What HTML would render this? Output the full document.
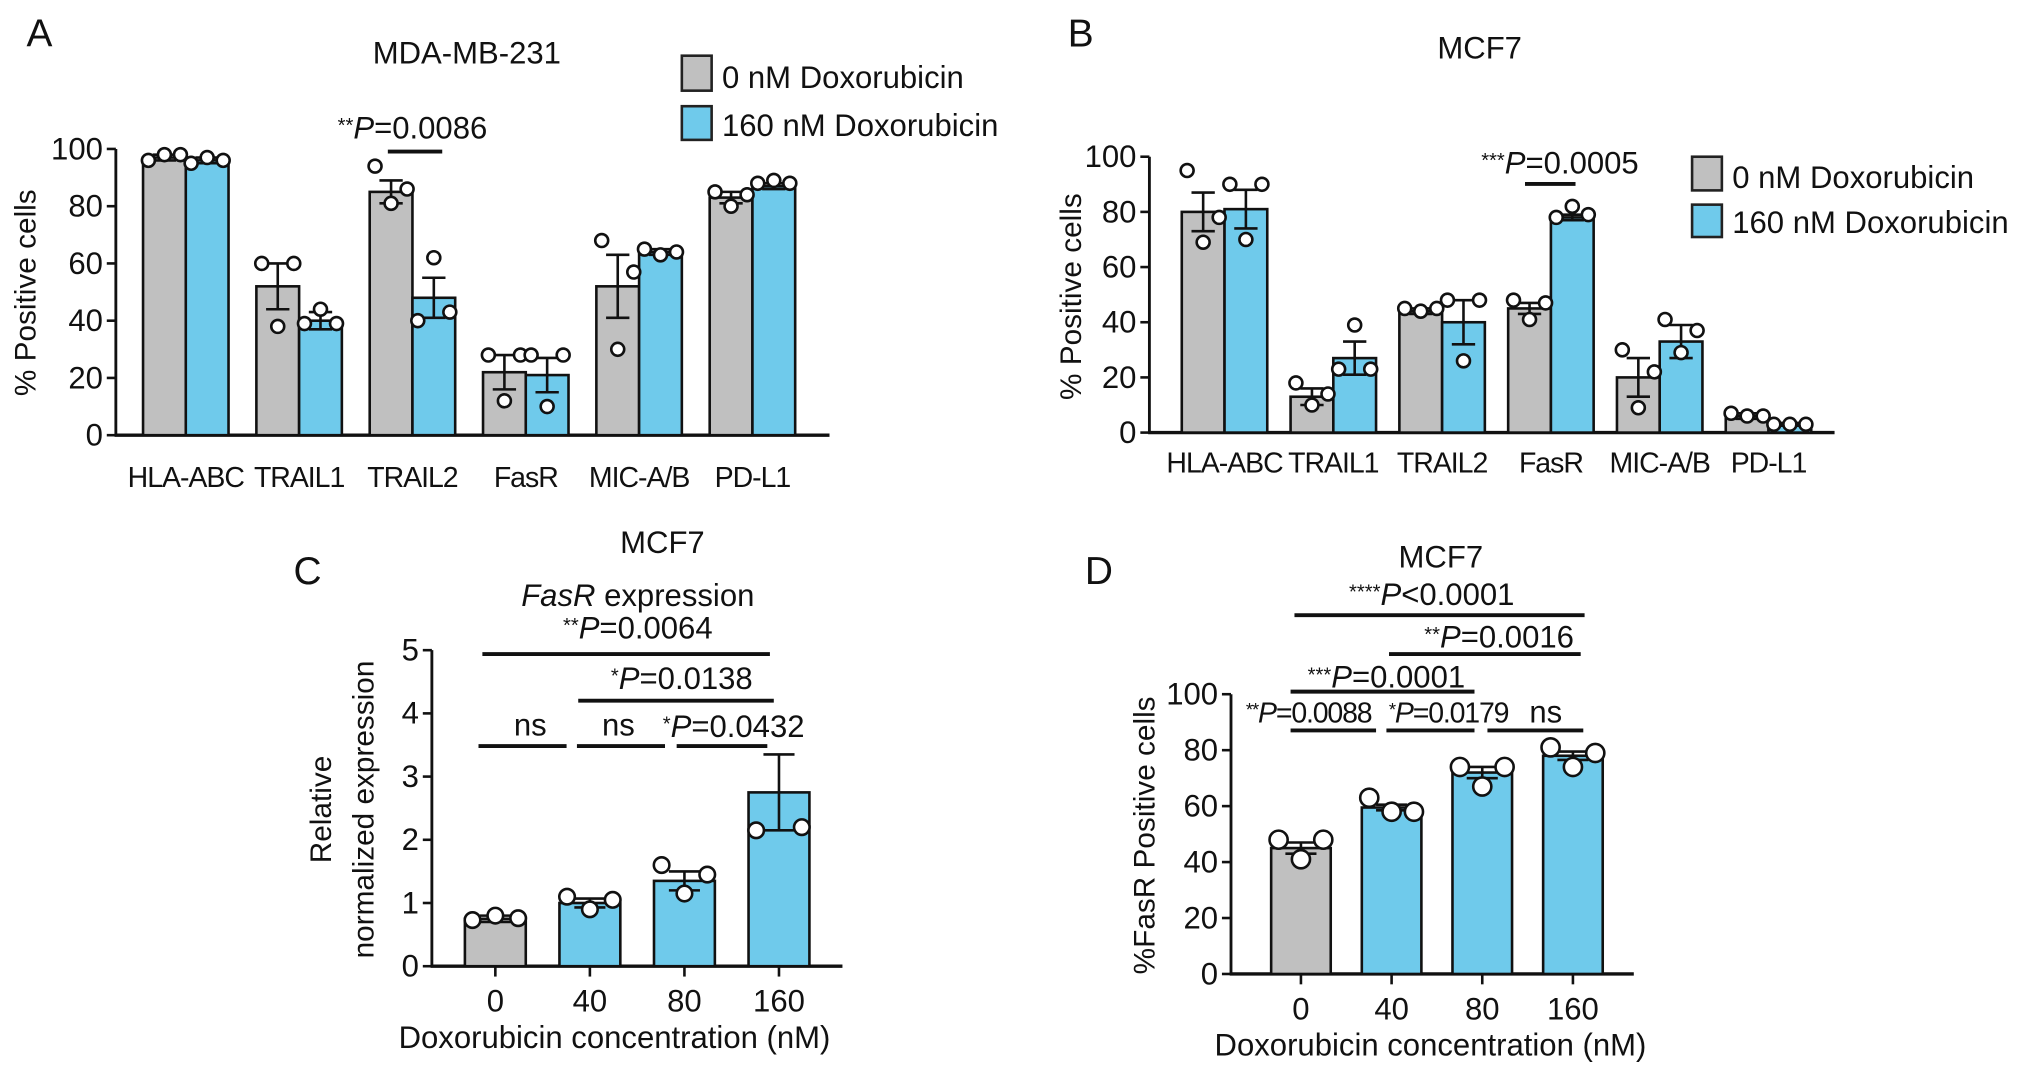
<!DOCTYPE html>
<html><head><meta charset="utf-8"><style>
html,body{margin:0;padding:0;background:#fff}
svg{display:block}
text{font-family:"Liberation Sans",Arial,sans-serif;fill:#111}
.cat{letter-spacing:-0.8px}
.tight{letter-spacing:-0.9px}
</style></head><body>
<svg id="fig" width="2032" height="1075" viewBox="0 0 1568 830" xmlns="http://www.w3.org/2000/svg"></svg>
<script>
// ---------- Panel A data ----------
const aCats=["HLA-ABC","TRAIL1","TRAIL2","FasR","MIC-A/B","PD-L1"];
const aGray=[97,52,85,22,52,83];
const aBlue=[96,40,48,21,64,87];
const aGrayErr=[1,8,4,6,11,2];
const aBlueErr=[1,3,7,6,1,1];
const aGrayPts=[[96,98,98],[60,38,60],[94,81,86],[28,12,28],[68,30,57],[85,80,84]];
const aBluePts=[[95,97,96],[39,44,39],[40,62,43],[28,10,28],[65,63,64],[88,89,88]];
const aTicks=[0,20,40,60,80,100];
// ---------- Panel B data ----------
const bCats=["HLA-ABC","TRAIL1","TRAIL2","FasR","MIC-A/B","PD-L1"];
const bGray=[80,13,44,45,20,6];
const bBlue=[81,27,40,78,33,3];
const bGrayErr=[7,3,1,2,7,1];
const bBlueErr=[7,6,8,1,6,0.5];
const bGrayPts=[[95,69,78],[18,10,14],[45,44,45],[48,41,47],[30,9,22],[7,6,6]];
const bBluePts=[[90,70,90],[23,39,23],[48,26,48],[78,82,79],[41,29,37],[3,3,3]];
const bTicks=[0,20,40,60,80,100];
// ---------- Panel C data ----------
const cCats=["0","40","80","160"];
const cVals=[0.75,1.0,1.35,2.75];
const cErr=[0.05,0.07,0.15,0.6];
const cPts=[[0.73,0.8,0.76],[1.1,0.9,1.05],[1.6,1.15,1.45],[2.15,2.2]];
const cTicks=[0,1,2,3,4,5];
// ---------- Panel D data ----------
const dCats=["0","40","80","160"];
const dVals=[45,59.5,72,78];
const dErr=[2,1,2,1.5];
const dPts=[[48,41,48],[63,58,58],[74,67,74],[81,74,79]];
const dTicks=[0,20,40,60,80,100];

const NS="http://www.w3.org/2000/svg";
const svg=document.getElementById('fig');
const GRAY="#c0c0c0", BLUE="#6fcaeb";
const FS=24;
function mk(tag,attrs,parent){const e=document.createElementNS(NS,tag);for(const k in attrs)e.setAttribute(k,attrs[k]);(parent||svg).appendChild(e);return e;}
function txt(x,y,s,size,anchor,parent){const t=mk('text',{x:x,y:y,'font-size':size,'text-anchor':anchor||'middle'},parent);t.textContent=s;return t;}
function ptext(x,y,stars,rest,size,parent){
  const t=mk('text',{x:x,y:y,'font-size':size,'text-anchor':'middle'},parent);
  const s1=mk('tspan',{'font-size':size*0.65,dy:-5},t);s1.textContent=stars;
  const s2=mk('tspan',{'font-style':'italic',dy:5},t);s2.textContent='P';
  const s3=mk('tspan',{},t);s3.textContent=rest;
  return t;
}
function line(x1,y1,x2,y2,w,parent){return mk('line',{x1:x1,y1:y1,x2:x2,y2:y2,stroke:'#111','stroke-width':w||2},parent);}

function axes(g,ax,y0,yTop,xEnd,ticks,vmax,fs){
  const ys=v=>y0-v/vmax*(y0-yTop);
  const yl=line(ax,y0,ax,yTop,2.2,g);
  
  
  const xl=line(ax-1,y0,xEnd,y0,2.6,g);
  
  
  ticks.forEach(t=>{
    const tk=line(ax-7,ys(t),ax,ys(t),2,g);
    
    
    const tl=txt(ax-10,ys(t)+8,String(t),fs,'end',g);
    
    
  });
  return ys;
}
function bar(g,x,w,y0,yv,fill,name){
  const r=mk('rect',{x:x,y:yv,width:w,height:y0-yv,fill:fill,stroke:'#111','stroke-width':2},g);
  
  
}
function errbar(g,cx,ys,v,e,cw){
  const eg=mk('g',{},g);
  
  
  line(cx,ys(v-e),cx,ys(v+e),2,eg);
  line(cx-cw,ys(v+e),cx+cw,ys(v+e),2,eg);
  line(cx-cw,ys(v-e),cx+cw,ys(v-e),2,eg);
}
function points(g,cx,w,ys,pts,r){
  const n=pts.length;
  pts.forEach((p,i)=>{
    const off=n===1?0:(i/(n-1)-0.5)*w*0.75;
    const c=mk('circle',{cx:cx+off,cy:ys(p),r:r||5,fill:'#fff',stroke:'#111','stroke-width':2},g);
    
    
  });
}

// ---------- Panel A ----------
(function(){
  const g=mk('g',{});
  
  
  const ax=89,y0=336,yTop=115,step=87.5,left=110,w=33;
  const ys=axes(g,ax,y0,yTop,640,aTicks,100,FS);
  aCats.forEach((c,i)=>{
    const gx=left+i*step;
    bar(g,gx,w,y0,ys(aGray[i]),GRAY,'bar-gray-'+c.toLowerCase());
    bar(g,gx+w,w,y0,ys(aBlue[i]),BLUE,'bar-blue-'+c.toLowerCase());
    errbar(g,gx+w/2,ys,aGray[i],aGrayErr[i],9);
    errbar(g,gx+1.5*w,ys,aBlue[i],aBlueErr[i],9);
    points(g,gx+w/2,w,ys,aGrayPts[i],5);
    points(g,gx+1.5*w,w,ys,aBluePts[i],5);
    const l=txt(gx+w,376,c,22,'middle',g);
    l.setAttribute('class','cat');
    
    
  });
  const yt=txt(0,0,'% Positive cells',23,'middle',g);
  yt.setAttribute('transform','translate(27,226) rotate(-90)');
  
  
  const lab=txt(30,36,'A',30,'middle',g);
  
  
  const ti=txt(360,49,'MDA-MB-231',24,'middle',g);
  
  
  const sig=ptext(318,107,'**','=0.0086',FS,g);
  
  
  const sl=line(299,117,341,117,3,g);
  
  
  const lg=mk('g',{},g);
  
  
  const e1=mk('rect',{x:526,y:43,width:23,height:27,fill:GRAY,stroke:'#222','stroke-width':2},lg);
  
  
  const t1=txt(557,68,'0 nM Doxorubicin',FS,'start',lg);
  
  
  const e2=mk('rect',{x:526,y:82,width:23,height:26,fill:BLUE,stroke:'#222','stroke-width':2},lg);
  
  
  const t2=txt(557,105,'160 nM Doxorubicin',FS,'start',lg);
  
  
})();

// ---------- Panel B ----------
(function(){
  const g=mk('g',{});
  
  
  const ax=887,y0=334,yTop=121,step=84,left=912,w=33;
  const ys=axes(g,ax,y0,yTop,1416,bTicks,100,FS);
  bCats.forEach((c,i)=>{
    const gx=left+i*step;
    bar(g,gx,w,y0,ys(bGray[i]),GRAY,'bar-gray-'+c.toLowerCase());
    bar(g,gx+w,w,y0,ys(bBlue[i]),BLUE,'bar-blue-'+c.toLowerCase());
    errbar(g,gx+w/2,ys,bGray[i],bGrayErr[i],9);
    errbar(g,gx+1.5*w,ys,bBlue[i],bBlueErr[i],9);
    points(g,gx+w/2,w,ys,bGrayPts[i],5);
    points(g,gx+1.5*w,w,ys,bBluePts[i],5);
    const l=txt(gx+w,365,c,22,'middle',g);
    l.setAttribute('class','cat');
    
    
  });
  const yt=txt(0,0,'% Positive cells',23,'middle',g);
  yt.setAttribute('transform','translate(834,229) rotate(-90)');
  
  
  const lab=txt(834,36,'B',30,'middle',g);
  
  
  const ti=txt(1142,45,'MCF7',24,'middle',g);
  
  
  const sig=ptext(1204,134,'***','=0.0005',FS,g);
  
  
  const sl=line(1177,142,1216,142,3,g);
  
  
  const lg=mk('g',{},g);
  
  
  const e1=mk('rect',{x:1306,y:121,width:23,height:26,fill:GRAY,stroke:'#222','stroke-width':2},lg);
  
  
  const t1=txt(1337,145,'0 nM Doxorubicin',FS,'start',lg);
  
  
  const e2=mk('rect',{x:1306,y:158,width:23,height:25,fill:BLUE,stroke:'#222','stroke-width':2},lg);
  
  
  const t2=txt(1337,180,'160 nM Doxorubicin',FS,'start',lg);
  
  
})();

// ---------- single-series panel helper ----------
function singlePanel(name,cfg,cats,vals,errs,pts,ticks){
  const g=mk('g',{});
  
  
  const ys=axes(g,cfg.ax,cfg.y0,cfg.yTop,cfg.xEnd,ticks,ticks[ticks.length-1],FS);
  cats.forEach((c,i)=>{
    const cx=cfg.c0+i*cfg.step;
    bar(g,cx-cfg.w/2,cfg.w,cfg.y0,ys(vals[i]),i===0?GRAY:BLUE,'bar-'+c+'nm');
    errbar(g,cx,ys,vals[i],errs[i],12);
    points(g,cx,cfg.w,ys,pts[i],cfg.r);
    const tk=line(cx,cfg.y0,cx,cfg.y0+8,2,g);
    
    
    const l=txt(cx,cfg.y0+35,c,FS,'middle',g);
    
    
  });
  const xt=txt(cfg.xtx,cfg.y0+63,'Doxorubicin concentration (nM)',FS,'middle',g);
  
  
  return g;
}

// ---------- Panel C ----------
(function(){
  const g=singlePanel('panel-c',{ax:333,y0:746,yTop:502,xEnd:650,c0:382,step:73,w:47,xtx:474,r:6},cCats,cVals,cErr,cPts,cTicks);
  const y1=txt(0,0,'Relative',23,'middle',g);
  y1.setAttribute('transform','translate(255,625) rotate(-90)');
  
  
  const y2=txt(0,0,'normalized expression',23,'middle',g);
  y2.setAttribute('transform','translate(288,625) rotate(-90)');
  
  
  const lab=txt(237,451,'C',30,'middle',g);
  
  
  const ti=txt(511,427,'MCF7',24,'middle',g);
  
  
  const st=mk('text',{x:492,y:468,'font-size':FS,'text-anchor':'middle'},g);
  const s1=mk('tspan',{'font-style':'italic'},st);s1.textContent='FasR';
  const s2=mk('tspan',{},st);s2.textContent=' expression';
  
  
  const sigs=[[492,493,'**','=0.0064',372,594,505],[526,532,'*','=0.0138',446,597,541],[566,569,'*','=0.0432',522,592,576]];
  sigs.forEach(s=>{
    const t=ptext(s[0],s[1],s[2],s[3],FS,g);
    
    
    const l=line(s[4],s[6],s[5],s[6],3,g);
    
    
  });
  [[409,369,437],[477,445,513]].forEach(s=>{
    const t=txt(s[0],568,'ns',FS,'middle',g);
    
    
    const l=line(s[1],576,s[2],576,3,g);
    
    
  });
})();

// ---------- Panel D ----------
(function(){
  const g=singlePanel('panel-d',{ax:950,y0:752,yTop:536,xEnd:1261,c0:1004,step:70,w:46,xtx:1104,r:7},dCats,dVals,dErr,dPts,dTicks);
  const yt=txt(0,0,'%FasR Positive cells',23,'middle',g);
  yt.setAttribute('transform','translate(891,645) rotate(-90)');
  
  
  const lab=txt(848,451,'D',30,'middle',g);
  
  
  const ti=txt(1112,438,'MCF7',FS,'middle',g);
  
  
  const sigs=[[1105,467,'****','<0.0001',999,1223,475,24],[1157,500,'**','=0.0016',1072,1220,505,24],[1070,531,'***','=0.0001',996,1138,534,24],[1010,558,'**','=0.0088',996,1062,564,22],[1118,558,'*','=0.0179',1070,1138,564,22]];
  sigs.forEach(s=>{
    const t=ptext(s[0],s[1],s[2],s[3],s[7],g);
    if(s[7]<24) t.setAttribute('class','tight');
    
    
    const l=line(s[4],s[6],s[5],s[6],3,g);
    
    
  });
  const ns=txt(1193,558,'ns',FS,'middle',g);
  
  
  const nl=line(1148,564,1222,564,3,g);
  
  
})();
</script>
</body></html>
